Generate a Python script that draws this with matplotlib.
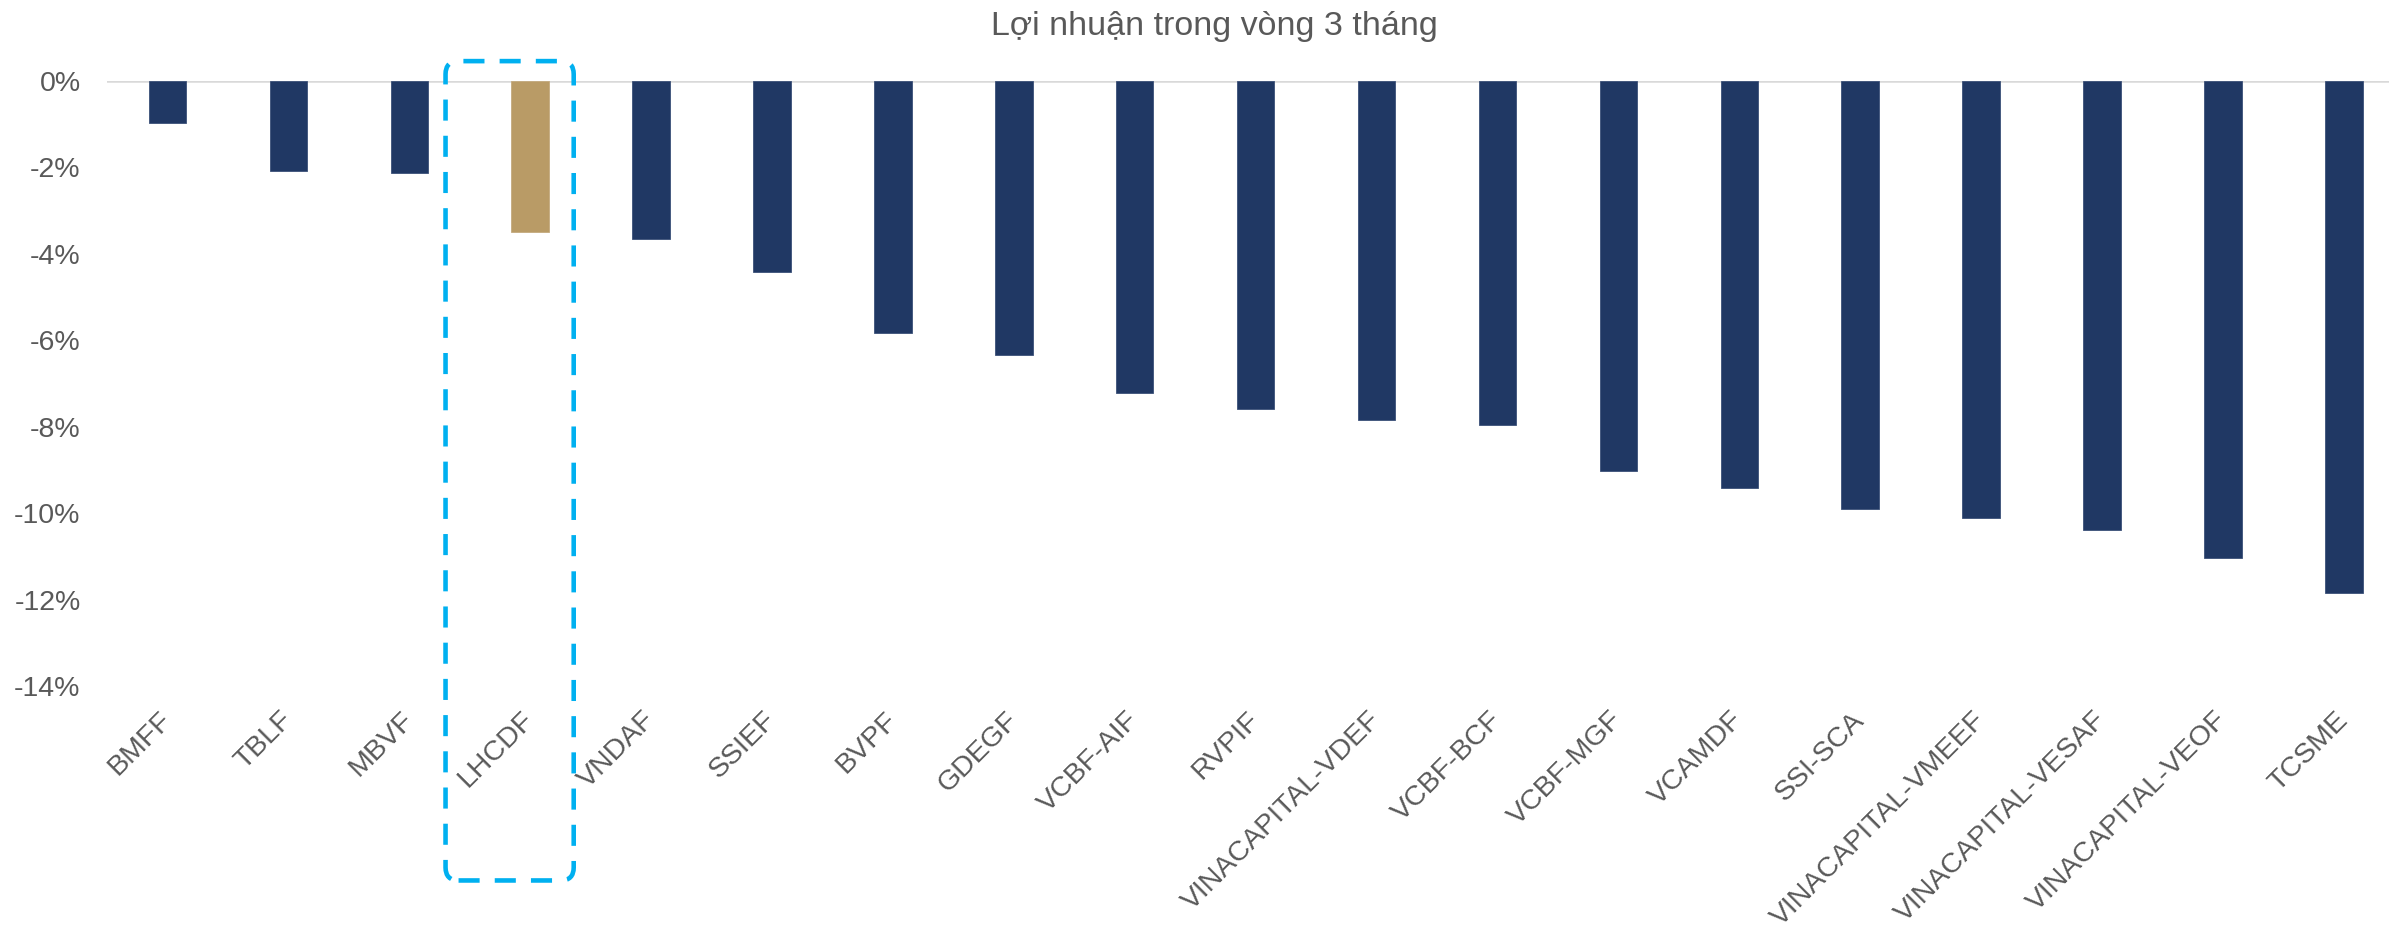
import numpy as np
import matplotlib
matplotlib.use("Agg")
import matplotlib.pyplot as plt
from matplotlib.patches import FancyBboxPatch
from matplotlib.transforms import IdentityTransform, ScaledTranslation
from matplotlib.ticker import FuncFormatter

plt.rcParams['font.family'] = ['Liberation Sans', 'DejaVu Sans']

# Dữ liệu lợi nhuận 3 tháng (%)
funds = ["BMFF", "TBLF", "MBVF", "LHCDF", "VNDAF", "SSIEF", "BVPF", "GDEGF",
         "VCBF-AIF", "RVPIF", "VINACAPITAL-VDEF", "VCBF-BCF", "VCBF-MGF",
         "VCAMDF", "SSI-SCA", "VINACAPITAL-VMEEF", "VINACAPITAL-VESAF",
         "VINACAPITAL-VEOF", "TCSME"]
returns = [-0.98, -2.08, -2.13, -3.50, -3.66, -4.41, -5.82, -6.34,
           -7.21, -7.58, -7.85, -7.97, -9.02,
           -9.42, -9.90, -10.11, -10.38,
           -11.04, -11.85]
highlight = "LHCDF"
yticks = [0, -2, -4, -6, -8, -10, -12, -14]

navy = "#203864"
gold = "#B99B66"
grey_txt = "#595959"

W, H, DPI = 2389, 930, 100
fig = plt.figure(figsize=(W / DPI, H / DPI), dpi=DPI)
ax = fig.add_axes([107 / W, 1 - 686 / H, 1 - 107 / W, (686 - 81) / H])

x = np.arange(len(funds))
colors = [gold if f == highlight else navy for f in funds]
edges = ["#C4AA7E" if f == highlight else "#3B5078" for f in funds]
ax.bar(x, returns, width=0.31, color=colors, edgecolor=edges, linewidth=0.6, zorder=2)

ax.set_ylim(-14, 0)
ax.set_xlim(-0.5, (W - 167.6) / 120.9)
ax.axhline(0, color="#D9D9D9", lw=1.8, zorder=1)

for s in ax.spines.values():
    s.set_visible(False)

ax.set_yticks(yticks)
ax.yaxis.set_major_formatter(FuncFormatter(lambda v, p: f"{v:.0f}%" if v != 0 else "0%"))
ax.tick_params(axis="y", length=0, pad=19, labelsize=20.5, labelcolor=grey_txt)

ax.set_xticks(x)
ax.set_xticklabels(funds, rotation=45, ha="right", va="top", rotation_mode="anchor")
ax.tick_params(axis="x", length=0, pad=15, labelsize=20.5, labelcolor=grey_txt)
shift = ScaledTranslation(-9 / DPI, 0, fig.dpi_scale_trans)
for lab in ax.get_xticklabels():
    lab.set_transform(lab.get_transform() + shift)

fig.text(1214 / W, 1 - 27 / H, "Lợi nhuận trong vòng 3 tháng", ha="center", va="center",
         fontsize=24.5, color=grey_txt)

# Khung nét đứt quanh quỹ được nhấn mạnh
i = funds.index(highlight)
x0, y0 = ax.transData.transform((i - 0.70, -18.5))
x1, y1 = ax.transData.transform((i + 0.36, 0.46))
box = FancyBboxPatch((x0, y0), x1 - x0, y1 - y0,
                     boxstyle="round,pad=0,rounding_size=13",
                     transform=IdentityTransform(), fill=False,
                     edgecolor="#00B0F0", lw=3.3, linestyle=(0, (4.6, 3.3)),
                     clip_on=False, zorder=5)
fig.patches.append(box)

fig.savefig("out.png", dpi=DPI)
